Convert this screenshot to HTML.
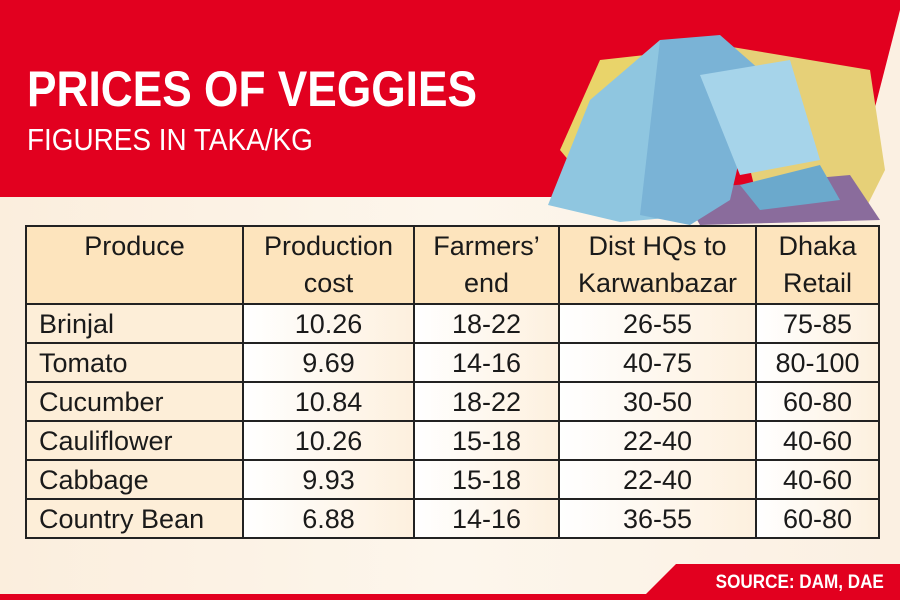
<!DOCTYPE html>
<html><head><meta charset="utf-8"><style>
*{margin:0;padding:0;box-sizing:border-box}
body{width:900px;height:600px;overflow:hidden;position:relative;background:linear-gradient(90deg,#fbeedd 0%,#fdf6ec 50%,#fbf0e2 100%);font-family:"Liberation Sans Narrow","Liberation Sans",sans-serif}
.t1{position:absolute;left:27px;top:60px;font-size:50px;font-weight:bold;color:#fff;transform:scaleX(0.885);transform-origin:left top;white-space:nowrap}
.t2{position:absolute;left:27px;top:122px;font-size:31px;color:#fff;transform:scaleX(0.9);transform-origin:left top;white-space:nowrap}
table{position:absolute;left:25px;top:225px;border-collapse:collapse;font-size:27px;color:#1a1a1a}
td{border:2px solid #222;text-align:center;height:39px;padding:0;line-height:36px}
tr.h td{background:#fde4bd;height:78px;line-height:37px;font-size:27px}
td.n{text-align:left;padding-left:12px;background:#fdeed8}
td.w{background:linear-gradient(90deg,#fff 0%,#fdf0de 100%)}
.src{position:absolute;right:16px;top:572px;color:#fff;font-weight:bold;font-size:19px;transform:scaleX(0.9);transform-origin:right top;white-space:nowrap}
</style></head><body>
<svg width="900" height="600" style="position:absolute;left:0;top:0">
<polygon points="0,0 900,0 900,10 852,197 0,197" fill="#e2001f"/>
<polygon points="676,564 900,564 900,600 640,600" fill="#e2001f"/>
<rect x="0" y="594" width="900" height="6" fill="#e2001f"/>
<g>
<polygon points="560,150 600,60 690,50 700,140 610,210" fill="#e9d46a"/>
<polygon points="720,45 870,70 885,170 860,220 760,210" fill="#e6d078" />
<polygon points="680,190 850,175 880,220 700,225" fill="#8a6c9c"/>
<polygon points="548,205 590,100 660,40 720,50 760,110 700,215 620,222" fill="#8fc6e0"/>
<polygon points="660,40 720,35 760,70 730,200 690,225 640,215" fill="#7ab3d6"/>
<polygon points="700,75 790,60 820,160 740,175" fill="#a6d4ea"/>
<polygon points="740,185 820,165 840,200 760,210" fill="#6ba9cc"/>
</g>
</svg>
<div class="t1">PRICES OF VEGGIES</div>
<div class="t2">FIGURES IN TAKA/KG</div>
<table>
<colgroup><col style="width:217px"><col style="width:171px"><col style="width:145px"><col style="width:197px"><col style="width:123px"></colgroup>
<tr class="h"><td>Produce<br>&nbsp;</td><td>Production<br>cost</td><td>Farmers’<br>end</td><td>Dist HQs to<br>Karwanbazar</td><td>Dhaka<br>Retail</td></tr>
<tr><td class="n">Brinjal</td><td class="w">10.26</td><td class="w">18-22</td><td class="w">26-55</td><td class="w">75-85</td></tr>
<tr><td class="n">Tomato</td><td class="w">9.69</td><td class="w">14-16</td><td class="w">40-75</td><td class="w">80-100</td></tr>
<tr><td class="n">Cucumber</td><td class="w">10.84</td><td class="w">18-22</td><td class="w">30-50</td><td class="w">60-80</td></tr>
<tr><td class="n">Cauliflower</td><td class="w">10.26</td><td class="w">15-18</td><td class="w">22-40</td><td class="w">40-60</td></tr>
<tr><td class="n">Cabbage</td><td class="w">9.93</td><td class="w">15-18</td><td class="w">22-40</td><td class="w">40-60</td></tr>
<tr><td class="n">Country Bean</td><td class="w">6.88</td><td class="w">14-16</td><td class="w">36-55</td><td class="w">60-80</td></tr>
</table>
<div class="src">SOURCE: DAM, DAE</div>
</body></html>
